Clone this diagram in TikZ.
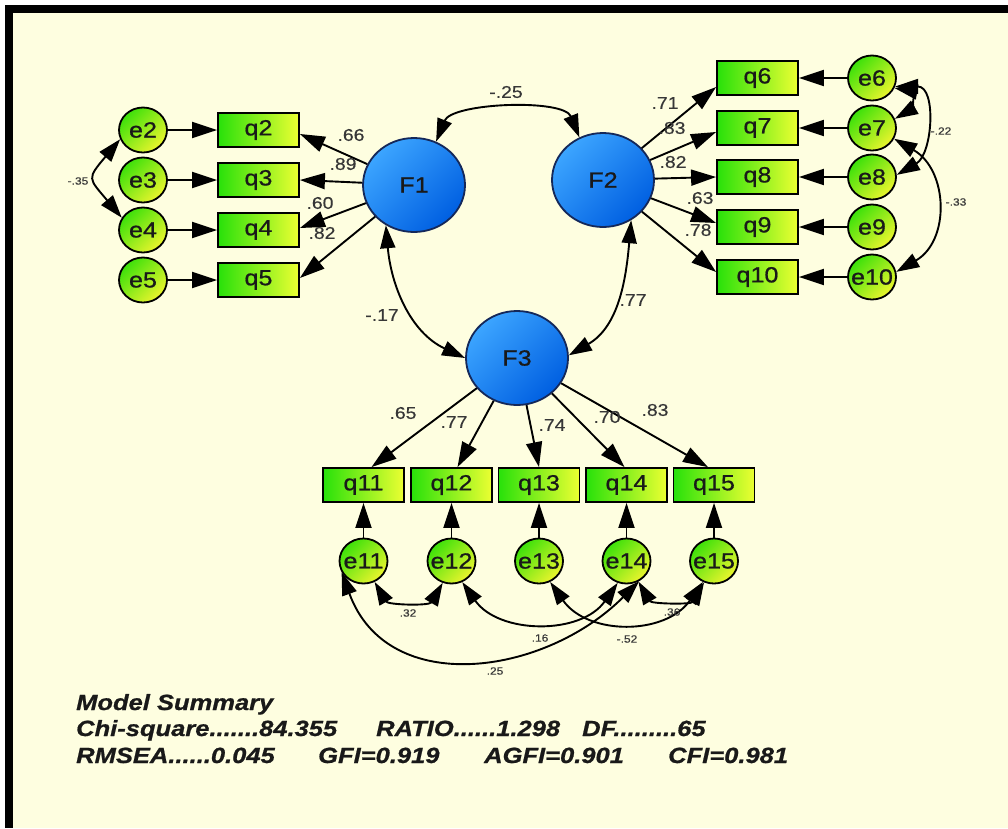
\documentclass[tikz,border=0pt]{standalone}
\usepackage{fontspec}
\setmainfont{Liberation Sans}
\newfontfamily\nodefont[FakeStretch=1.14,FakeBold=0.8]{Liberation Sans}
\newfontfamily\lblfont[FakeStretch=1.14,FakeBold=0.3]{Liberation Sans}
\newfontfamily\sumfont[FakeStretch=1.16,FakeBold=0.8]{Liberation Sans}
\usetikzlibrary{arrows.meta,shapes.geometric}
\definecolor{bgcream}{RGB}{254,254,224}
\definecolor{bgreen}{RGB}{40,225,10}
\definecolor{byellow}{RGB}{236,255,50}
\definecolor{egreen}{RGB}{60,225,10}
\definecolor{eyellow}{RGB}{235,245,45}
\definecolor{fblue1}{RGB}{60,165,255}
\definecolor{fblue2}{RGB}{0,95,225}
\definecolor{fborder}{RGB}{20,40,90}
\definecolor{txt}{RGB}{25,25,25}
\definecolor{lbl}{RGB}{55,55,55}
\begin{document}
\begin{tikzpicture}[x=1pt,y=1pt,
  arr/.style={line width=1.9pt, -{Triangle[length=25pt,width=16pt]}},
  cov/.style={line width=1.9pt, {Triangle[length=23pt,width=15pt]}-{Triangle[length=23pt,width=15pt]}},
  obs/.style={rectangle, draw=black, line width=1.8pt, minimum width=81pt, minimum height=34pt, inner sep=0pt, left color=bgreen, right color=byellow, font=\nodefont\fontsize{22}{22}\selectfont, text=txt},
  err/.style={ellipse, draw=black, line width=1.8pt, minimum width=48pt, minimum height=45pt, inner sep=0pt, top color=egreen, bottom color=eyellow, shading angle=45, font=\nodefont\fontsize{22}{22}\selectfont, text=txt},
  lat/.style={ellipse, draw=fborder, line width=1.8pt, minimum width=102pt, minimum height=94pt, inner sep=0pt, top color=fblue1, bottom color=fblue2, shading angle=45, font=\nodefont\fontsize{22}{22}\selectfont, text=txt},
  pl/.style={font=\lblfont\fontsize{17}{17}\selectfont, text=lbl, inner sep=0pt},
  cl/.style={font=\lblfont\fontsize{10.5}{10.5}\selectfont, text=lbl, inner sep=0pt},
  sm/.style={font=\sumfont\fontsize{22}{22}\selectfont\bfseries\itshape, text=txt, anchor=base west, inner sep=0pt}
]
% background and frame
\fill[white] (0,0) rectangle (1008,-828);
\fill[bgcream] (5,-5) rectangle (1008,-828);
\fill[black] (5,-5) rectangle (1008,-12.5);
\fill[black] (5,-5) rectangle (12.5,-828);
\useasboundingbox (0,0) rectangle (1008,-828);

% latent factors
\node[lat] (F1) at (414,-185) {\makebox[0pt]{F1}};
\node[lat] (F2) at (603,-180) {\makebox[0pt]{F2}};
\node[lat] (F3) at (517,-358) {\makebox[0pt]{F3}};

% left block
\foreach \i/\y in {2/130,3/180,4/230,5/280}{
  \node[err] (e\i) at (143,-\y) {\makebox[0pt]{e\i}};
  \node[obs] (q\i) at (258.5,-\y) {q\i};
  \draw[arr] (e\i) -- (q\i);
}
% right block
\foreach \i/\y in {6/78,7/128,8/177,9/227,10/277}{
  \node[err] (e\i) at (872,-\y) {\makebox[0pt]{e\i}};
  \node[obs] (q\i) at (757.5,-\y) {q\i};
  \draw[arr] (e\i) -- (q\i);
}
% bottom block
\foreach \i/\x in {11/363.5,12/451.5,13/539,14/626.5,15/714}{
  \node[err] (e\i) at (\x,-561) {\makebox[0pt]{e\i}};
  \node[obs] (q\i) at (\x,-485) {q\i};
  \draw[arr] (e\i) -- (q\i);
}

% loadings F1
\draw[arr] (F1) -- ([yshift=-4pt]q2.east);
\draw[arr] (F1) -- (q3.east);
\draw[arr] (F1) -- ([yshift=2pt]q4.east);
\draw[arr] (F1) -- ([yshift=2pt]q5.east);
% loadings F2
\draw[arr] (F2) -- ([yshift=-9pt]q6.west);
\draw[arr] (F2) -- ([yshift=-4pt]q7.west);
\draw[arr] (F2) -- (q8.west);
\draw[arr] (F2) -- ([yshift=4pt]q9.west);
\draw[arr] (F2) -- ([yshift=5pt]q10.west);
% loadings F3
\draw[arr] (F3) -- ([xshift=8pt]q11.north);
\draw[arr] (F3) -- ([xshift=6pt]q12.north);
\draw[arr] (F3) -- (q13.north);
\draw[arr] (F3) -- ([xshift=-2pt]q14.north);
\draw[arr] (F3) -- ([xshift=-6pt]q15.north);

% factor covariances
\draw[cov] (F1.63) to[out=68,in=112,looseness=0.75] (F2.119);
\draw[cov] (F1.235) to[out=275,in=155,looseness=1] (F3.180);
\draw[cov] (F2.305) to[out=265,in=30,looseness=1] (F3.3);

% error covariances
\draw[cov] (e2.202) to[out=230,in=130,looseness=1.7] (e4.150);
\draw[cov] (e6.336) to[out=-10,in=30,looseness=1.6] (e7.22);
\draw[cov] (e6.340) to[out=0,in=30,looseness=1.2] (e8.5);
\draw[cov] (e7.334) to[out=-30,in=30,looseness=1.2] (e10.12);
\draw[cov] (e11.298) to[out=300,in=240,looseness=1] (e12.248);
\draw[cov] (e12.297) to[out=305,in=235,looseness=1.05] (e14.248);
\draw[cov] (e13.298) to[out=305,in=235,looseness=1.1] (e15.242);
\draw[cov] (e14.300) to[out=300,in=240,looseness=1] (e15.245);
\draw[cov] (e11.207) to[out=290,in=225,looseness=1.15] (e14.302);

% path labels
\node[pl] (l2) at (351,-135) {.66};
\node[pl] (l3) at (343,-164) {.89};
\node[pl] (l4) at (320,-203) {.60};
\node[pl] (l5) at (322,-233) {.82};
\node[pl] (l6) at (665,-103) {.71};
\node[pl] (l7) at (672,-128) {.83};
\node[pl] (l8) at (673,-162) {.82};
\node[pl] (l9) at (700,-198) {.63};
\node[pl] (l10) at (698,-230) {.78};
\node[pl] (l11) at (403,-413) {.65};
\node[pl] (l12) at (454,-422) {.77};
\node[pl] (l13) at (552,-425) {.74};
\node[pl] (l14) at (607,-417) {.70};
\node[pl] (l15) at (655,-410) {.83};
\node[pl] (c12) at (506,-92) {-.25};
\node[pl] (c13) at (382,-315) {-.17};
\node[pl] (c23) at (633,-300) {.77};
% covariance labels
\node[cl] (k24) at (78,-181) {-.35};
\node[cl] (k68) at (941,-131) {-.22};
\node[cl] (k710) at (956,-202) {-.33};
\node[cl] (k1112) at (408,-613) {.32};
\node[cl] (k1214) at (540,-638) {.16};
\node[cl] (k1315) at (627,-639) {-.52};
\node[cl] (k1415) at (672,-612) {.36};
\node[cl] (k1114) at (495,-671) {.25};

% summary
\node[sm] (s0) at (76,-710) {Model Summary};
\node[sm] (s1) at (76,-736) {Chi-square.......84.355};
\node[sm] (s2) at (376,-736) {RATIO......1.298};
\node[sm] (s3) at (582,-736) {DF.........65};
\node[sm] (s4) at (76,-763) {RMSEA......0.045};
\node[sm] (s5) at (318,-763) {GFI=0.919};
\node[sm] (s6) at (484,-763) {AGFI=0.901};
\node[sm] (s7) at (668,-763) {CFI=0.981};
\end{tikzpicture}
\end{document}
